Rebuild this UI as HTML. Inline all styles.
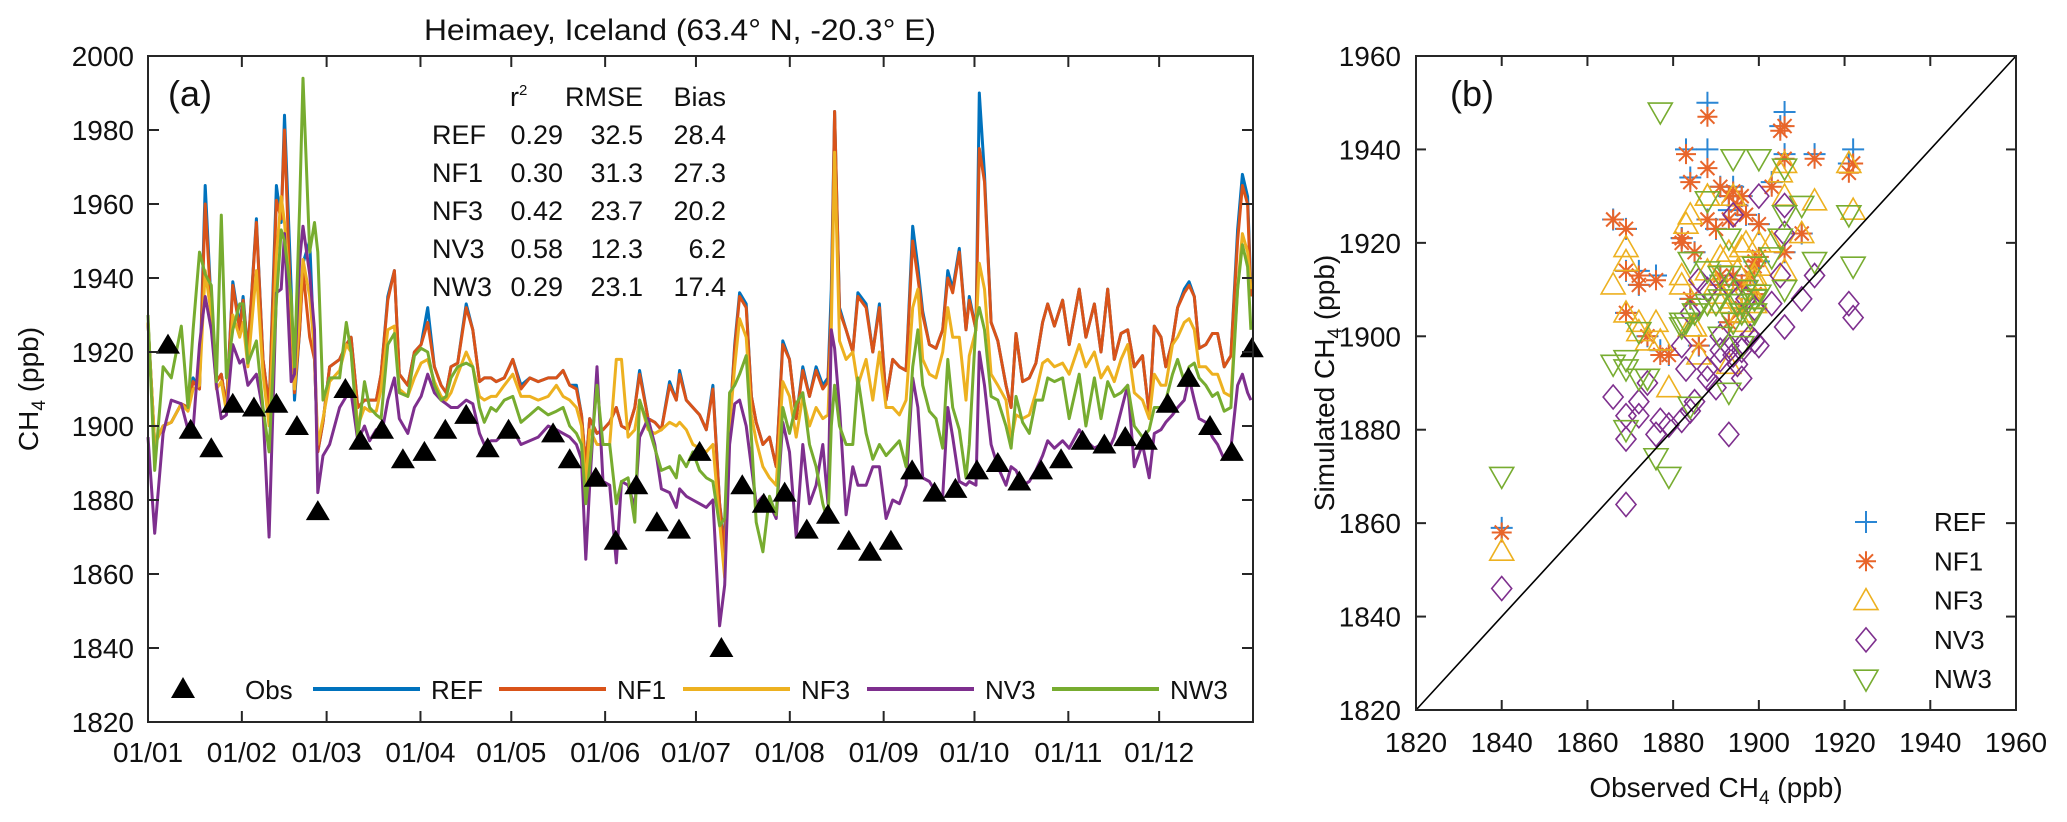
<!DOCTYPE html>
<html><head><meta charset="utf-8"><style>
html,body{margin:0;padding:0;background:#fff;}
svg{display:block;font-family:"Liberation Sans",Arial,sans-serif;}
</style></head><body>
<svg id="chart" width="2067" height="822" viewBox="0 0 2067 822" xmlns="http://www.w3.org/2000/svg">
<g id="pa"></g>
<g id="pb"></g>
</svg>
<script>
// ---------- Panel (a) data ----------
const days = [0,2.2,5,7.7,11,13.2,14.9,17,18.9,20.9,22.6,24.2,25.9,28,30.3,31.4,33,35.8,38,40,42.4,44,45.1,47.3,48.4,50.1,51.2,53.4,55,56.1,57.8,60,63.3,65.5,67.1,69.3,71.5,73.2,75.4,77,79.2,81.4,83,85.8,88,90.2,92.4,94.6,96.8,98.5,100.1,102.3,105.1,107.3,109.5,111.1,113.3,115,117.7,120.5,123.2,126.1,128.9,132.2,134.9,137.1,139.3,141.5,143.2,144.6,145.9,148.3,150.3,152.5,154.7,156.4,158.6,160.8,162.4,165.2,167.4,169.6,172.3,174.5,175.6,177.8,180,182.2,184.4,186.6,188.8,190.5,192.1,193.8,195.4,197.6,199.3,200.9,203.1,205.3,207.5,209.7,211.9,214.1,216.3,218.5,220.7,222.9,224.6,225.7,226.8,228.4,230.6,232.8,234.5,237.2,239.4,241.6,243.8,246,248.2,250.4,252.6,254.3,255.9,258.1,260.3,262.5,264.2,265.8,268,270.2,271.3,273.5,274.6,276.3,278.5,280.7,283.4,285.1,286.7,288.9,291.1,293.3,295.5,297.2,299.4,302.1,304.3,307.6,309.8,312.6,314.8,317,319.2,321.4,323.6,325.8,328.5,330.7,332.4,334.6,336.2,338.4,340.1,342.3,343.9,345.6,347.2,349.4,351.6,353.3,355.5,357.7,359.9,361.5,363.2,364.3];
const refVals = [1928,1895,1900,1901,1906,1905,1913,1910,1965,1932,1912,1914,1905,1939,1927,1935,1920,1956,1918,1905,1965,1955,1984,1937,1907,1926,1944,1950,1918,1893,1901,1916,1918,1922,1924,1905,1907,1907,1907,1914,1935,1942,1914,1911,1920,1922,1932,1916,1911,1909,1916,1917,1933,1926,1912,1913,1913,1912,1913,1918,1911,1913,1912,1913,1913,1915,1911,1911,1903,1889,1902,1898,1899,1901,1905,1900,1899,1905,1915,1902,1901,1899,1912,1907,1915,1907,1905,1903,1899,1911,1879,1868,1900,1922,1936,1933,1908,1901,1895,1897,1889,1923,1918,1902,1916,1908,1916,1911,1913,1937,1985,1932,1926,1920,1936,1933,1920,1933,1907,1918,1916,1915,1954,1943,1931,1922,1921,1926,1942,1937,1948,1926,1935,1926,1990,1968,1928,1923,1911,1905,1925,1912,1913,1917,1928,1933,1927,1934,1922,1937,1924,1933,1920,1937,1918,1925,1926,1916,1919,1903,1927,1924,1916,1923,1932,1937,1939,1935,1921,1922,1925,1925,1916,1919,1953,1968,1962,1937];
const nf1Vals = [1928,1895,1900,1901,1906,1905,1912,1910,1960,1931,1912,1914,1905,1938,1926,1934,1920,1955,1918,1905,1961,1956,1980,1928,1909,1926,1942,1924,1918,1893,1901,1916,1918,1922,1924,1905,1907,1907,1907,1914,1934,1942,1914,1911,1920,1922,1928,1916,1911,1909,1916,1917,1932,1926,1912,1913,1913,1912,1913,1918,1910,1913,1912,1913,1913,1915,1911,1910,1903,1889,1902,1898,1899,1901,1905,1900,1899,1905,1914,1902,1901,1899,1911,1907,1914,1907,1905,1903,1899,1910,1879,1866,1900,1921,1935,1932,1908,1901,1895,1897,1889,1922,1918,1902,1915,1908,1915,1910,1912,1931,1985,1931,1926,1920,1935,1932,1920,1932,1907,1918,1916,1915,1950,1940,1930,1922,1921,1926,1940,1936,1947,1926,1934,1926,1975,1966,1928,1923,1911,1905,1925,1912,1913,1917,1928,1933,1927,1934,1922,1937,1924,1933,1920,1937,1918,1925,1926,1916,1919,1903,1927,1924,1916,1923,1932,1936,1938,1935,1921,1922,1925,1925,1916,1919,1950,1965,1960,1935];
const nf3Vals = [1928,1895,1900,1901,1906,1904,1910,1911,1942,1930,1910,1912,1904,1930,1924,1928,1916,1942,1914,1900,1946,1962,1955,1932,1910,1930,1945,1935,1920,1895,1902,1912,1915,1922,1920,1900,1905,1904,1904,1910,1926,1927,1910,1908,1913,1917,1918,1912,1908,1907,1909,1914,1920,1916,1908,1907,1908,1908,1911,1914,1908,1908,1907,1908,1911,1908,1907,1905,1900,1884,1899,1895,1895,1895,1918,1918,1897,1899,1907,1899,1898,1899,1901,1900,1901,1899,1895,1894,1893,1895,1874,1859,1900,1916,1929,1924,1903,1896,1889,1886,1884,1912,1908,1897,1908,1900,1905,1902,1903,1926,1974,1923,1918,1920,1911,1918,1907,1920,1905,1905,1903,1907,1932,1937,1918,1914,1913,1920,1932,1924,1924,1907,1919,1926,1944,1937,1914,1911,1907,1896,1903,1902,1903,1909,1917,1918,1916,1917,1914,1922,1916,1920,1913,1916,1912,1918,1922,1909,1907,1902,1914,1911,1911,1922,1924,1928,1929,1926,1916,1916,1914,1914,1909,1908,1937,1952,1947,1937];
const nv3Vals = [1897,1871,1898,1907,1906,1899,1899,1922,1935,1926,1911,1902,1903,1922,1917,1918,1911,1914,1904,1870,1936,1937,1952,1912,1914,1945,1954,1941,1926,1882,1892,1895,1905,1908,1909,1896,1900,1896,1899,1897,1907,1913,1902,1898,1905,1908,1914,1909,1907,1906,1905,1905,1907,1906,1898,1895,1896,1896,1898,1899,1895,1896,1897,1900,1899,1898,1897,1895,1891,1864,1884,1916,1885,1884,1863,1885,1884,1878,1897,1902,1895,1883,1882,1878,1883,1881,1880,1879,1878,1880,1846,1857,1895,1906,1907,1900,1889,1879,1881,1879,1875,1901,1893,1870,1895,1879,1884,1895,1879,1926,1921,1905,1876,1889,1884,1884,1889,1889,1875,1880,1879,1884,1913,1905,1886,1885,1882,1881,1905,1897,1885,1884,1885,1884,1920,1911,1895,1889,1884,1889,1888,1884,1885,1888,1892,1896,1894,1896,1894,1899,1896,1894,1895,1893,1897,1904,1911,1889,1895,1886,1898,1899,1901,1903,1905,1907,1913,1907,1902,1901,1897,1895,1891,1894,1911,1914,1909,1907];
const nw3Vals = [1930,1888,1916,1913,1927,1905,1926,1947,1941,1938,1912,1957,1913,1926,1933,1933,1917,1923,1905,1893,1934,1953,1950,1935,1916,1960,1994,1947,1955,1947,1907,1913,1913,1928,1920,1897,1912,1905,1903,1902,1922,1925,1909,1908,1919,1921,1920,1911,1907,1908,1913,1916,1917,1916,1905,1901,1905,1904,1907,1908,1901,1903,1905,1903,1904,1905,1900,1898,1895,1879,1889,1911,1895,1895,1879,1885,1886,1874,1907,1900,1894,1888,1889,1886,1892,1889,1893,1888,1886,1885,1873,1875,1909,1911,1914,1919,1897,1874,1866,1881,1876,1905,1898,1906,1909,1895,1889,1879,1874,1900,1911,1900,1895,1895,1913,1898,1891,1895,1892,1894,1896,1889,1916,1926,1911,1904,1902,1894,1918,1905,1899,1886,1895,1928,1932,1926,1908,1907,1900,1894,1908,1901,1898,1907,1907,1913,1912,1913,1902,1914,1900,1913,1902,1912,1908,1909,1911,1900,1897,1899,1905,1905,1907,1914,1918,1912,1916,1917,1913,1911,1908,1909,1904,1905,1937,1949,1943,1926];
const obsDays = [6.6,14.1,20.9,28,35,42.4,49.2,56.1,65.2,70.2,77.3,84.2,91.3,98.2,105.1,112.2,119.1,133.8,139.3,147.9,154.5,161.3,168.1,175.4,182.2,189.4,196.3,203.4,210.3,217.6,224.6,231.5,238.5,245.4,252.4,259.8,266.7,273.8,280.7,287.8,295,301.6,308.7,315.9,322.8,329.6,336.8,343.7,350.8,358,364.6];
const obsVals = [1922,1899,1894,1906,1905,1906,1900,1877,1910,1896,1899,1891,1893,1899,1903,1894,1899,1898,1891,1886,1869,1884,1874,1872,1893,1840,1884,1879,1882,1872,1876,1869,1866,1869,1888,1882,1883,1888,1890,1885,1888,1891,1896,1895,1897,1896,1906,1913,1900,1893,1921];
const monthStarts = [0,31,59,90,120,151,181,212,243,273,304,334];
const monthLabels = ["01/01","01/02","01/03","01/04","01/05","01/06","01/07","01/08","01/09","01/10","01/11","01/12"];
const yTicksA = [1820,1840,1860,1880,1900,1920,1940,1960,1980,2000];
const seriesNames = ["REF","NF1","NF3","NV3","NW3"];
const statR2 = ["0.29","0.30","0.42","0.58","0.29"];
const statRMSE = ["32.5","31.3","23.7","12.3","23.1"];
const statBias = ["28.4","27.3","20.2","6.2","17.4"];

// ---------- Panel (b) data (simulated at obs times) ----------
const simREF = [1940,1910,1932,1939,1945,1948,1916,1897,1922,1906,1916,1913,1927,1909,1933,1913,1916,1913,1911,1898,1905,1908,1900,1914,1903,1859,1934,1896,1921,1911,1913,1923,1925,1914,1950,1921,1940,1940,1923,1918,1925,1932,1930,1928,1926,1911,1918,1939,1924,1930,1937];
const simNF1 = [1937,1909,1931,1938,1944,1945,1917,1896,1922,1906,1915,1913,1925,1909,1932,1913,1916,1913,1911,1898,1905,1908,1900,1913,1903,1858,1933,1896,1920,1911,1912,1923,1925,1914,1947,1921,1939,1936,1923,1918,1925,1932,1930,1928,1926,1911,1918,1938,1924,1930,1935];
const simNF3 = [1927,1908,1930,1930,1935,1937,1920,1899,1922,1903,1912,1909,1918,1907,1920,1908,1913,1910,1907,1896,1916,1902,1899,1901,1894,1854,1926,1889,1911,1903,1903,1919,1911,1905,1930,1913,1924,1930,1911,1902,1914,1917,1919,1914,1920,1905,1914,1929,1915,1918,1937];
const simNV3 = [1904,1899,1926,1922,1913,1928,1930,1882,1908,1898,1899,1900,1911,1906,1907,1896,1899,1900,1897,1912,1864,1884,1890,1883,1879,1846,1905,1881,1898,1886,1879,1883,1887,1878,1910,1882,1893,1893,1889,1886,1891,1895,1897,1894,1908,1891,1902,1913,1898,1898,1907];
const simNW3 = [1915,1915,1938,1926,1921,1936,1938,1948,1928,1905,1905,1908,1921,1908,1917,1903,1908,1904,1900,1906,1880,1885,1891,1891,1888,1870,1916,1870,1903,1901,1874,1895,1894,1893,1914,1902,1903,1929,1907,1905,1907,1913,1907,1907,1910,1898,1910,1916,1909,1913,1926];
const ticksB = [1820,1840,1860,1880,1900,1920,1940,1960];

const NS = "http://www.w3.org/2000/svg";
const colors = ["#0072BD","#D95319","#EDB120","#7E2F8E","#77AC30"];
function mk(tag, attrs, parent){const e=document.createElementNS(NS,tag);for(const k in attrs)e.setAttribute(k,attrs[k]);parent.appendChild(e);return e;}

// ===== Panel A =====
const pa = document.getElementById('pa');
const AX0=148, AX1=1253, AY0=56, AY1=722;
const xA = d => AX0 + d*(AX1-AX0)/365;
const yA = v => AY1 - (v-1820)*(AY1-AY0)/180;

let t = mk('text',{x:680,y:40,'text-anchor':'middle','font-size':30,fill:'#111',textLength:512,lengthAdjust:'spacingAndGlyphs'},pa);
t.textContent = "Heimaey, Iceland (63.4° N, -20.3° E)";



const allSeries=[refVals,nf1Vals,nf3Vals,nv3Vals,nw3Vals];
allSeries.forEach((vals,si)=>{
  const pts = vals.map((v,i)=>xA(days[i]).toFixed(1)+','+yA(v).toFixed(1)).join(' ');
  const pl = mk('polyline',{points:pts,fill:'none',stroke:colors[si],'stroke-width':3,'stroke-linejoin':'round'},pa);
  
  
});
obsVals.forEach((v,i)=>{
  const cx=xA(obsDays[i]), cy=yA(v);
  const p = mk('polygon',{points:`${cx-12},${cy+9} ${cx+12},${cy+9} ${cx},${cy-11}`,fill:'#000'},pa);
  
  
});
let box = mk('rect',{x:AX0,y:AY0,width:AX1-AX0,height:AY1-AY0,fill:'none',stroke:'#262626','stroke-width':2},pa);


monthStarts.forEach((d,i)=>{
  const x=xA(d);
  if(i>0){mk('line',{x1:x,y1:AY1,x2:x,y2:AY1-11,stroke:'#262626','stroke-width':2},pa);
          mk('line',{x1:x,y1:AY0,x2:x,y2:AY0+11,stroke:'#262626','stroke-width':2},pa);}
  const l = mk('text',{x:x,y:762,'text-anchor':'middle','font-size':28,fill:'#111'},pa);
  l.textContent = monthLabels[i];
  
  
});
yTicksA.forEach(v=>{
  const y=yA(v);
  mk('line',{x1:AX0,y1:y,x2:AX0+11,y2:y,stroke:'#262626','stroke-width':2},pa);
  mk('line',{x1:AX1,y1:y,x2:AX1-11,y2:y,stroke:'#262626','stroke-width':2},pa);
  const l = mk('text',{x:134,y:y+10,'text-anchor':'end','font-size':28,fill:'#111'},pa);
  l.textContent = v;
  
  
});
let yl = mk('text',{x:0,y:0,'text-anchor':'middle','font-size':28,fill:'#111',transform:'translate(38,389) rotate(-90)'},pa);
yl.innerHTML = 'CH<tspan font-size="19" dy="7">4</tspan><tspan dy="-7"> (ppb)</tspan>';


let la = mk('text',{x:168,y:106,'font-size':36,fill:'#111'},pa);
la.textContent='(a)';


let hdr = mk('g',{'font-size':27,fill:'#111'},pa);


let h1=mk('text',{x:510,y:106},hdr); h1.innerHTML='r<tspan font-size="15" dy="-11">2</tspan>';
let h2=mk('text',{x:643,y:106,'text-anchor':'end'},hdr); h2.textContent='RMSE';
let h3=mk('text',{x:726,y:106,'text-anchor':'end'},hdr); h3.textContent='Bias';
seriesNames.forEach((n,i)=>{
  const y=144+i*38;
  mk('text',{x:432,y:y},hdr).textContent=n;
  mk('text',{x:563,y:y,'text-anchor':'end'},hdr).textContent=statR2[i];
  mk('text',{x:643,y:y,'text-anchor':'end'},hdr).textContent=statRMSE[i];
  mk('text',{x:726,y:y,'text-anchor':'end'},hdr).textContent=statBias[i];
});
let lg = mk('g',{'font-size':26,fill:'#111'},pa);


mk('polygon',{points:'171,698 195,698 183,677',fill:'#000'},lg);
mk('text',{x:245,y:699},lg).textContent='Obs';
const legX=[313,499,683,867,1052];
seriesNames.forEach((n,i)=>{
  const ln = mk('line',{x1:legX[i],y1:689,x2:legX[i]+107,y2:689,stroke:colors[i],'stroke-width':4},lg);
  
  
  mk('text',{x:legX[i]+118,y:699},lg).textContent=n;
});

// ===== Panel B =====
const pb = document.getElementById('pb');
const BX0=1416, BX1=2016, BY0=56, BY1=710;
const xB = v => BX0 + (v-1820)*(BX1-BX0)/140;
const yB = v => BY1 - (v-1820)*(BY1-BY0)/140;
const mcol = ["#2a86d4","#E8652A","#EDB120","#7E2F8E","#77AC30"];
function marker(type,cx,cy,g){
  if(type===0){mk('path',{d:`M${cx-11},${cy}H${cx+11}M${cx},${cy-11}V${cy+11}`,stroke:mcol[0],'stroke-width':2,fill:'none'},g);}
  else if(type===1){mk('path',{d:`M${cx-10},${cy}H${cx+10}M${cx},${cy-10}V${cy+10}M${cx-7},${cy-7}L${cx+7},${cy+7}M${cx-7},${cy+7}L${cx+7},${cy-7}`,stroke:mcol[1],'stroke-width':2,fill:'none'},g);}
  else if(type===2){mk('polygon',{points:`${cx-12},${cy+9} ${cx+12},${cy+9} ${cx},${cy-12}`,stroke:mcol[2],'stroke-width':1.6,fill:'none'},g);}
  else if(type===3){mk('polygon',{points:`${cx},${cy-12} ${cx+10},${cy} ${cx},${cy+12} ${cx-10},${cy}`,stroke:mcol[3],'stroke-width':1.6,fill:'none'},g);}
  else {mk('polygon',{points:`${cx-12},${cy-9} ${cx+12},${cy-9} ${cx},${cy+12}`,stroke:mcol[4],'stroke-width':1.6,fill:'none'},g);}
}
const simAll=[simREF,simNF1,simNF3,simNV3,simNW3];
simAll.forEach((arr,si)=>{
  const g = mk('g',{},pb);
  
  
  arr.forEach((v,i)=>marker(si,xB(obsVals[i]),yB(v),g));
});
let diag = mk('line',{x1:xB(1820),y1:yB(1820),x2:xB(1960),y2:yB(1960),stroke:'#000','stroke-width':1.6},pb);


let boxb = mk('rect',{x:BX0,y:BY0,width:BX1-BX0,height:BY1-BY0,fill:'none',stroke:'#262626','stroke-width':2},pb);


ticksB.forEach(v=>{
  const x=xB(v), y=yB(v);
  mk('line',{x1:x,y1:BY1,x2:x,y2:BY1-10,stroke:'#262626','stroke-width':2},pb);
  mk('line',{x1:x,y1:BY0,x2:x,y2:BY0+10,stroke:'#262626','stroke-width':2},pb);
  mk('line',{x1:BX0,y1:y,x2:BX0+10,y2:y,stroke:'#262626','stroke-width':2},pb);
  mk('line',{x1:BX1,y1:y,x2:BX1-10,y2:y,stroke:'#262626','stroke-width':2},pb);
  const lx = mk('text',{x:x,y:752,'text-anchor':'middle','font-size':28,fill:'#111'},pb);
  lx.textContent=v;
  
  
  const ly = mk('text',{x:1401,y:y+10,'text-anchor':'end','font-size':28,fill:'#111'},pb);
  ly.textContent=v;
  
  
});
let xlb = mk('text',{x:1716,y:797,'text-anchor':'middle','font-size':28,fill:'#111'},pb);
xlb.innerHTML='Observed CH<tspan font-size="19" dy="7">4</tspan><tspan dy="-7"> (ppb)</tspan>';


let ylb = mk('text',{x:0,y:0,'text-anchor':'middle','font-size':28,fill:'#111',transform:'translate(1334,383) rotate(-90)'},pb);
ylb.innerHTML='Simulated CH<tspan font-size="19" dy="7">4</tspan><tspan dy="-7"> (ppb)</tspan>';


let lb = mk('text',{x:1450,y:106,'font-size':36,fill:'#111'},pb);
lb.textContent='(b)';


const legB = mk('g',{'font-size':26,fill:'#111'},pb);


seriesNames.forEach((n,i)=>{
  const y=522+i*39.3;
  marker(i,1866,y,legB);
  const tx = mk('text',{x:1934,y:y+9},legB);
  tx.textContent=n;
  
  
});
</script>
</body></html>
